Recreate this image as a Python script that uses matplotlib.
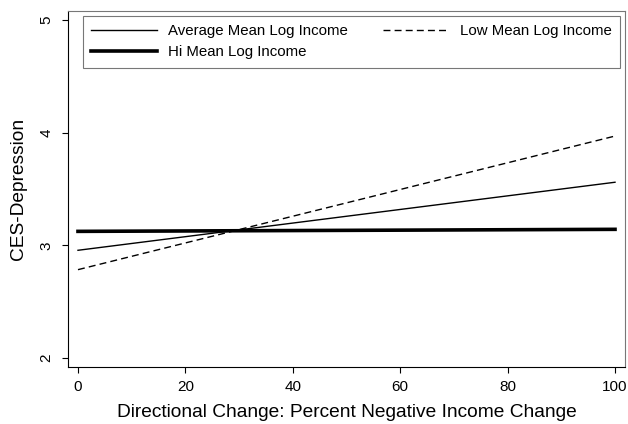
import numpy as np
import matplotlib.pyplot as plt

plt.rcParams['font.family'] = ['Liberation Sans', 'DejaVu Sans']

pct_neg = [0, 100]
avg_income = [2.956, 3.56]
low_income = [2.784, 3.97]
hi_income = [3.124, 3.142]

fig = plt.figure(figsize=(6.28, 4.24), dpi=100, facecolor='white')
ax = fig.add_axes([68 / 628, 57 / 424, 557 / 628, 356 / 424])

l_avg, = ax.plot(pct_neg, avg_income, color='black', lw=1.0, label='Average Mean Log Income')
l_low, = ax.plot(pct_neg, low_income, color='black', lw=1.0, ls=(0, (5, 3)), label='Low Mean Log Income')
l_hi, = ax.plot(pct_neg, hi_income, color='black', lw=2.6, label='Hi Mean Log Income')

ax.set_xlim(-1.86, 101.86)
ax.set_ylim(1.92, 5.08)
ax.set_xticks([0, 20, 40, 60, 80, 100])
ax.set_yticks([2, 3, 4, 5])
ax.tick_params(axis='both', labelsize=11, length=4.3, width=0.8, color='black')
ax.tick_params(axis='y', pad=6)
ax.tick_params(axis='x', pad=5)
for lbl in ax.get_yticklabels():
    lbl.set_rotation(90)
    lbl.set_va('center')

for side in ['top', 'right']:
    ax.spines[side].set_color('#777777')
for side in ['left', 'bottom']:
    ax.spines[side].set_color('black')

ax.set_xlabel('Directional Change: Percent Negative Income Change', fontsize=13.8, labelpad=7)
ax.set_ylabel('CES-Depression', fontsize=13.8, labelpad=9)

# column-first filling: col1 = Average, Hi ; col2 = Low
leg = ax.legend([l_avg, l_hi, l_low],
                [l_avg.get_label(), l_hi.get_label(), l_low.get_label()],
                loc='upper left', ncol=2, fontsize=10.8, frameon=True, fancybox=False,
                edgecolor='#555555', handlelength=4.4, columnspacing=1.5,
                borderaxespad=0, labelspacing=0.5, handletextpad=0.7,
                borderpad=0.55,
                bbox_to_anchor=(0.027, 0.851, 0.964, 0.136), mode='expand')
leg.get_frame().set_linewidth(0.8)

fig.savefig('out.png', dpi=100)
